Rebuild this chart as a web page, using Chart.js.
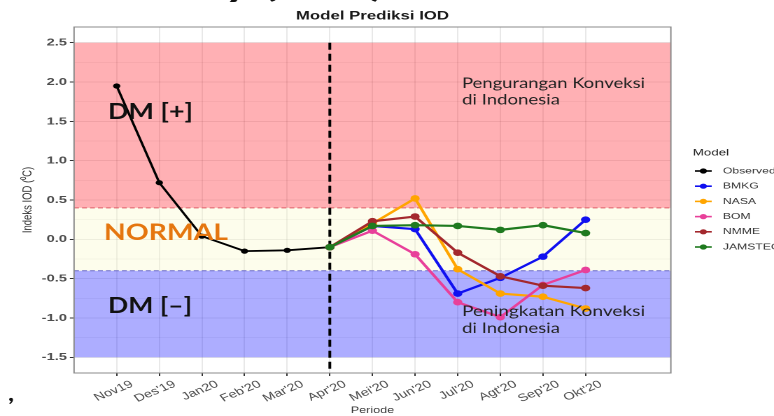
<!DOCTYPE html>
<html>
<head>
<meta charset="utf-8">
<script src="https://cdn.jsdelivr.net/npm/chart.js@4.4.1/dist/chart.umd.min.js"></script>
<style>
  html, body { margin: 0; padding: 0; background: #fff; }
  #iodChart { display: block; }
</style>
</head>
<body>
<!-- gambar asli melebar ke samping, jadi kanvas digambar sempit lalu direntangkan -->
<canvas id="iodChart" width="553" height="416" style="width:774px;height:416px"></canvas>
<script>
// label periode (sumbu x)
const periode = ["Nov19", "Des'19", "Jan20", "Feb'20", "Mar'20", "Apr'20", "Mei'20", "Jun'20", "Jul'20", "Agt'20", "Sep'20", "Okt'20"];

// nilai indeks IOD
const observed = [1.95, 0.72, 0.04, -0.15, -0.14, -0.10, null, null, null, null, null, null];
const bmkg     = [null, null, null, null, null, -0.10, 0.17, 0.13, -0.69, -0.49, -0.22, 0.25];
const nasa     = [null, null, null, null, null, -0.10, 0.20, 0.52, -0.38, -0.69, -0.73, -0.88];
const bom      = [null, null, null, null, null, -0.10, 0.11, -0.19, -0.80, -0.99, -0.58, -0.39];
const nmme     = [null, null, null, null, null, -0.10, 0.23, 0.29, -0.17, -0.47, -0.59, -0.62];
const jamstec  = [null, null, null, null, null, -0.10, 0.17, 0.18, 0.17, 0.12, 0.18, 0.08];

// batas kategori
const batasAtas = 0.4;
const batasBawah = -0.4;
const bandTop = 2.5;
const bandBottom = -1.5;
const garisPrediksi = 5; // Apr'20

const S = 774 / 553; // faktor rentang horizontal

function toPoints(arr) {
    return arr.map((v, i) => ({x: i, y: v})).filter(p => p.y !== null);
}

const seri = [
    {label: 'Observed', data: observed, color: '#000000'},
    {label: 'BMKG', data: bmkg, color: '#1010f0'},
    {label: 'NASA', data: nasa, color: '#ffa500'},
    {label: 'BOM', data: bom, color: '#e8409a'},
    {label: 'NMME', data: nmme, color: '#a3282d'},
    {label: 'JAMSTEC', data: jamstec, color: '#1f7a1f'},
];

const datasets = seri.map((s, i) => ({
    label: s.label,
    data: toPoints(s.data),
    borderColor: s.color,
    backgroundColor: s.color,
    borderWidth: i === 0 ? 1.8 : 2.2,
    pointRadius: i === 0 ? 2.6 : 3.3,
    pointBorderWidth: 0,
    order: seri.length - i, //JAMSTEC paling atas
}));

function isMajor(v) {
    return Math.abs(v * 2 - Math.round(v * 2)) < 1e-6;
}

// pita warna, garis putus-putus dan bingkai panel
const panelPlugin = {
    id: 'panel',
    beforeDatasetsDraw(chart) {
        const {ctx, chartArea: a, scales: {x, y}} = chart;
        ctx.save();
        const band = (from, to, color) => {
            const y1 = y.getPixelForValue(to);
            const y2 = y.getPixelForValue(from);
            ctx.fillStyle = color;
            ctx.fillRect(a.left, y1, a.right - a.left, y2 - y1);
        };
        band(batasAtas, bandTop, 'rgba(255,0,12,0.31)');
        band(batasBawah, batasAtas, 'rgba(248,248,200,0.35)');
        band(bandBottom, batasBawah, 'rgba(0,0,255,0.32)');

        ctx.lineWidth = 1;
        ctx.setLineDash([3.5, 2.2]);
        ctx.strokeStyle = '#e0606a';
        ctx.beginPath();
        ctx.moveTo(a.left, y.getPixelForValue(batasAtas));
        ctx.lineTo(a.right, y.getPixelForValue(batasAtas));
        ctx.stroke();
        ctx.strokeStyle = '#6a6ac8';
        ctx.beginPath();
        ctx.moveTo(a.left, y.getPixelForValue(batasBawah));
        ctx.lineTo(a.right, y.getPixelForValue(batasBawah));
        ctx.stroke();

        // garis awal prediksi
        ctx.setLineDash([7, 4]);
        ctx.lineWidth = 2;
        ctx.strokeStyle = '#000';
        const xp = x.getPixelForValue(garisPrediksi);
        ctx.beginPath();
        ctx.moveTo(xp, y.getPixelForValue(bandTop));
        ctx.lineTo(xp, a.bottom);
        ctx.stroke();

        ctx.setLineDash([]);
        ctx.lineWidth = 1;
        ctx.strokeStyle = '#8a8a8a';
        ctx.strokeRect(a.left, a.top, a.right - a.left, a.bottom - a.top);
        ctx.restore();
    }
};

// teks tambahan ditulis pada ukuran gambar asli (tanpa rentang)
function fitText(ctx, text, x, base, w, font, color) {
    ctx.font = font;
    const m = ctx.measureText(text).width;
    ctx.save();
    ctx.translate(x / S, base);
    ctx.scale(w / m / S, 1);
    ctx.fillStyle = color;
    ctx.textAlign = 'left';
    ctx.textBaseline = 'alphabetic';
    ctx.fillText(text, 0, 0);
    ctx.restore();
}

const teksPlugin = {
    id: 'teks',
    afterDraw(chart) {
        const {ctx, chartArea: a} = chart;
        ctx.save();
        // judul
        ctx.font = 'bold 12px "Liberation Sans", Arial, sans-serif';
        ctx.fillStyle = '#1a1a1a';
        ctx.textAlign = 'center';
        ctx.textBaseline = 'alphabetic';
        ctx.fillText('Model Prediksi IOD', (a.left + a.right) / 2, 19.5);

        // legenda
        const lx = 495;
        ctx.textAlign = 'left';
        ctx.textBaseline = 'middle';
        ctx.font = '9.5px "Liberation Sans", Arial, sans-serif';
        ctx.fillStyle = '#222';
        ctx.fillText('Model', lx, 153);
        ctx.font = '8.7px "Liberation Sans", Arial, sans-serif';
        seri.forEach((s, i) => {
            const yy = 171 + i * 15.2;
            ctx.strokeStyle = s.color;
            ctx.lineWidth = 1.6;
            ctx.beginPath();
            ctx.moveTo(lx + 1.5, yy);
            ctx.lineTo(lx + 13.5, yy);
            ctx.stroke();
            ctx.fillStyle = s.color;
            ctx.beginPath();
            ctx.arc(lx + 7.5, yy, 2.6, 0, Math.PI * 2);
            ctx.fill();
            ctx.fillStyle = '#333';
            ctx.fillText(s.label, lx + 21.5, yy);
        });

        // keterangan di dalam grafik
        fitText(ctx, 'DM [+]', 108, 119, 85, 'bold 22px Lato, sans-serif', '#111');
        fitText(ctx, 'NORMAL', 104, 240, 124, 'bold 23px Lato, sans-serif', '#e5760f');
        fitText(ctx, 'DM [\u2013]', 108, 313, 84, 'bold 22px Lato, sans-serif', '#111');
        fitText(ctx, 'Pengurangan Konveksi', 462, 88, 183, '14.5px Lato, sans-serif', '#222');
        fitText(ctx, 'di Indonesia', 462, 104.5, 98, '14.5px Lato, sans-serif', '#222');
        fitText(ctx, 'Peningkatan Konveksi', 462, 316, 183, '14.5px Lato, sans-serif', '#222');
        fitText(ctx, 'di Indonesia', 462, 333, 98, '14.5px Lato, sans-serif', '#222');

        // sisa teks yang terpotong di tepi gambar
        fitText(ctx, 'y (IOD)', 224, -3, 160, 'bold 30px Lato, sans-serif', '#111');
        fitText(ctx, ',', 8, 401, 6, 'bold 22px Lato, sans-serif', '#111');
        ctx.restore();
    }
};

const ctx = document.getElementById('iodChart').getContext('2d');
const iodChart = new Chart(ctx, {
    type: 'line',
    data: {datasets: datasets},
    options: {
        responsive: false,
        animation: false,
        devicePixelRatio: 2,
        layout: {padding: {left: 0, right: 553 - 479.3, top: 27, bottom: 0}},
        plugins: {
            legend: {display: false},
            tooltip: {enabled: false},
        },
        scales: {
            x: {
                type: 'linear',
                min: -1,
                max: 13,
                afterBuildTicks: (scale) => {
                    scale.ticks = periode.map((_, i) => ({value: i}));
                },
                afterFit: (scale) => { scale.height = 43; },
                ticks: {
                    callback: (v) => periode[v],
                    autoSkip: false,
                    maxRotation: 30,
                    minRotation: 30,
                    labelOffset: 11,
                    padding: 2,
                    color: '#4d4d4d',
                    font: {family: '"Liberation Sans", Arial, sans-serif', size: 10.5},
                },
                grid: {
                    color: 'rgba(0,0,0,0.09)',
                    tickColor: '#333',
                    tickLength: 3,
                },
                border: {display: false},
                title: {
                    display: true,
                    text: 'Periode',
                    color: '#333',
                    padding: {top: 0, bottom: 0},
                    font: {family: '"Liberation Sans", Arial, sans-serif', size: 9},
                },
            },
            y: {
                min: -1.7,
                max: 2.7,
                afterFit: (scale) => { scale.width = 52.9; },
                ticks: {
                    stepSize: 0.25,
                    includeBounds: false,
                    callback: (v) => isMajor(v) ? v.toFixed(1) : '',
                    padding: 2,
                    color: '#4d4d4d',
                    font: {family: '"Liberation Sans", Arial, sans-serif', size: 10.5, weight: 'bold'},
                },
                grid: {
                    color: (c) => (c.tick && isMajor(c.tick.value)) ? 'rgba(0,0,0,0.09)' : 'rgba(0,0,0,0.05)',
                    tickColor: (c) => (c.tick && isMajor(c.tick.value)) ? '#333' : 'rgba(0,0,0,0)',
                    tickLength: 3,
                },
                border: {display: false},
                title: {
                    display: true,
                    text: 'Indeks IOD (\u2070C)',
                    color: '#333',
                    padding: {top: 14, bottom: 0},
                    font: {family: '"Liberation Sans", Arial, sans-serif', size: 9.5},
                },
            },
        },
    },
    plugins: [panelPlugin, teksPlugin],
});
</script>
</body>
</html>
